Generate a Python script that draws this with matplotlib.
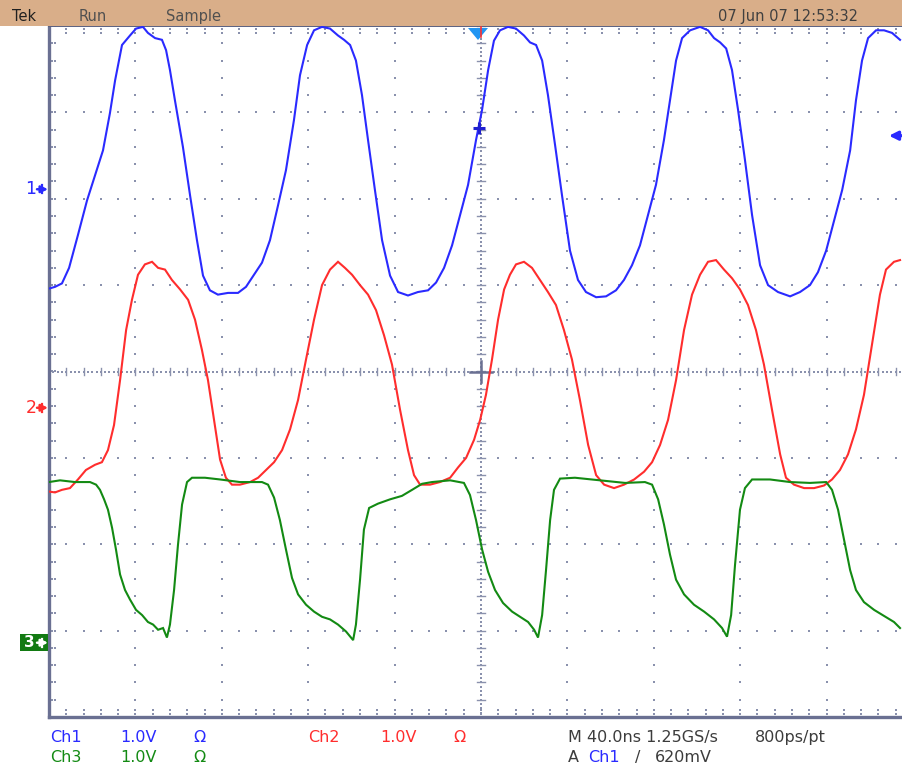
import numpy as np
import matplotlib
matplotlib.use("Agg")
import matplotlib.pyplot as plt
from matplotlib.patches import Rectangle, Polygon, FancyArrowPatch

# ---------------- scope settings ----------------
time_per_div_ns = 40.0
volts_per_div = 1.0
n_hdiv = 10
n_vdiv = 8
ch1_offset_div = 2.11
ch2_offset_div = -0.42
ch3_offset_div = -3.14
trigger_level_v = 0.62
trigger_time_ns = 199.0

# ---------------- waveform data (time ns, volts) ----------------
ch1_t = [0, 2.8, 6.0, 9.3, 13.4, 17.6, 21.3, 25.0, 28.2, 30.6, 33.8, 37.5, 40.3, 43.5, 45.8, 49.1,
         52.3, 54.2, 56.0, 58.3, 62.0, 65.3, 68.5, 71.3, 74.5, 78.2, 82.9, 87.5, 91.2, 94.9, 98.6,
         102.3, 106.0, 109.7, 113.4, 116.2, 119.5, 122.7, 126.4, 130.1, 133.8, 136.6, 139.4, 142.1,
         144.9, 147.7, 150.9, 154.2, 157.9, 161.6, 166.2, 170.8, 175.5, 179.2, 182.9, 186.6, 190.3,
         194.0, 197.7, 200.5, 203.3, 206.0, 208.8, 212.5, 216.2, 219.9, 222.7, 225.5, 228.3, 231.0,
         234.3, 237.5, 241.2, 244.9, 248.6, 253.3, 257.9, 262.5, 266.2, 269.9, 273.6, 277.3, 281.0,
         284.7, 287.5, 290.3, 293.1, 296.8, 301.4, 305.1, 307.9, 310.7, 313.5, 316.2, 319.0, 322.2,
         325.5, 329.2, 332.9, 337.5, 343.1, 347.7, 352.3, 356.0, 359.8, 363.5, 367.2, 370.9, 373.6,
         376.4, 379.2, 382.9, 386.6, 390.3, 394.0]
ch1_v = [-1.15, -1.13, -1.09, -0.91, -0.53, -0.13, 0.16, 0.45, 0.88, 1.26, 1.67, 1.78, 1.86, 1.88, 1.81, 1.75,
         1.73, 1.61, 1.38, 1.03, 0.49, -0.07, -0.59, -1.00, -1.17, -1.22, -1.20, -1.20, -1.13, -0.99, -0.85,
         -0.59, -0.19, 0.22, 0.80, 1.32, 1.67, 1.84, 1.88, 1.86, 1.78, 1.73, 1.67, 1.49,
         1.09, 0.57, -0.01, -0.59, -1.00, -1.19, -1.23, -1.19, -1.17, -1.08, -0.91, -0.65, -0.30,
         0.05, 0.57, 0.92, 1.38, 1.72, 1.84, 1.88, 1.86, 1.78, 1.70, 1.67, 1.49, 1.09,
         0.51, -0.07, -0.71, -1.05, -1.19, -1.25, -1.24, -1.17, -1.05, -0.88, -0.65, -0.30, 0.05,
         0.57, 1.03, 1.49, 1.75, 1.84, 1.88, 1.84, 1.75, 1.70, 1.63, 1.38, 0.92, 0.34,
         -0.30, -0.88, -1.11, -1.19, -1.24, -1.19, -1.11, -0.96, -0.71, -0.36, -0.01, 0.45, 1.03,
         1.49, 1.75, 1.84, 1.84, 1.81, 1.73]

ch2_t = [0, 2.8, 6.0, 9.7, 13.4, 17.1, 21.3, 24.5, 27.3, 30.1, 32.9, 35.7, 38.4, 41.2, 44.4, 47.7,
         50.5, 53.7, 56.9, 60.7, 64.4, 67.6, 70.8, 73.6, 76.4, 79.2, 81.9, 84.7, 88.4, 93.1, 96.8,
         100.5, 104.2, 107.9, 111.6, 115.3, 119.0, 122.7, 126.4, 130.1, 133.8, 137.0, 140.3, 144.0,
         147.7, 151.4, 155.1, 158.8, 162.5, 166.2, 169.0, 171.8, 176.4, 181.0, 185.7, 189.4, 193.1,
         196.8, 199.6, 202.3, 205.1, 207.9, 210.7, 213.4, 216.2, 219.9, 223.6, 227.3, 231.0, 234.7,
         238.4, 242.1, 245.8, 249.6, 253.3, 257.0, 261.6, 266.2, 270.9, 275.5, 279.2, 282.9, 286.6,
         290.3, 294.0, 297.7, 301.4, 305.1, 308.8, 312.5, 316.2, 319.9, 323.6, 327.3, 331.0, 334.7,
         338.5, 341.2, 344.9, 349.6, 354.2, 358.8, 362.5, 366.2, 369.9, 373.6, 377.3, 381.0, 384.7,
         387.5, 391.2, 394.0]
ch2_v = [-0.97, -0.98, -0.95, -0.93, -0.83, -0.72, -0.66, -0.63, -0.49, -0.20, 0.32, 0.90, 1.25, 1.54, 1.66, 1.69,
         1.62, 1.60, 1.48, 1.37, 1.25, 1.02, 0.67, 0.32, -0.14, -0.60, -0.81, -0.89, -0.89, -0.86, -0.81,
         -0.72, -0.63, -0.49, -0.25, 0.09, 0.56, 1.02, 1.42, 1.60, 1.69, 1.62, 1.54, 1.42,
         1.31, 1.13, 0.84, 0.50, -0.02, -0.49, -0.78, -0.89, -0.89, -0.86, -0.81, -0.69, -0.58,
         -0.37, -0.14, 0.15, 0.56, 1.02, 1.37, 1.54, 1.66, 1.69, 1.62, 1.48, 1.34, 1.19,
         0.90, 0.56, 0.09, -0.43, -0.78, -0.89, -0.93, -0.89, -0.83, -0.74, -0.63, -0.43, -0.14,
         0.32, 0.90, 1.31, 1.54, 1.69, 1.71, 1.60, 1.50, 1.37, 1.19, 0.90, 0.50, -0.02,
         -0.54, -0.81, -0.89, -0.93, -0.93, -0.90, -0.83, -0.72, -0.54, -0.25, 0.15, 0.73, 1.31,
         1.60, 1.69, 1.71]

ch3_t = [0, 5.1, 12.0, 19.0, 21.8, 23.6, 25.5, 27.3, 29.2, 31.0, 32.9, 35.2, 37.5, 40.3, 43.1, 45.8,
         48.2, 50.5, 52.8, 54.6, 56.0, 57.9, 59.7, 61.6, 63.9, 66.2, 72.2, 79.2, 88.4, 98.6, 101.4,
         104.2, 106.9, 109.7, 112.5, 115.3, 119.0, 122.7, 126.4, 130.1, 133.8, 137.5, 140.8, 142.1,
         144.0, 145.8, 148.2, 152.3, 157.9, 163.4, 168.1, 172.7, 177.3, 185.7, 192.1, 194.9, 197.7,
         200.5, 203.3, 206.5, 210.2, 214.4, 218.1, 221.8, 224.6, 226.4, 228.3, 230.1, 232.0, 233.8,
         236.6, 243.5, 255.1, 266.7, 275.9, 279.2, 282.0, 284.7, 287.5, 290.3, 294.0, 298.6, 303.3,
         307.9, 311.6, 313.9, 315.8, 317.6, 319.9, 322.2, 325.5, 333.8, 343.1, 352.3, 359.8, 362.5,
         365.3, 368.1, 370.9, 373.6, 377.3, 382.0, 386.6, 391.2, 394.0]
ch3_v = [1.86, 1.88, 1.86, 1.86, 1.83, 1.77, 1.66, 1.54, 1.33, 1.08, 0.79, 0.61, 0.50, 0.38, 0.32, 0.24,
         0.21, 0.15, 0.17, 0.06, 0.21, 0.61, 1.13, 1.60, 1.86, 1.91, 1.91, 1.89, 1.86, 1.86, 1.83,
         1.68, 1.42, 1.08, 0.75, 0.56, 0.44, 0.36, 0.30, 0.27, 0.21, 0.13, 0.03, 0.21,
         0.73, 1.31, 1.56, 1.61, 1.66, 1.70, 1.77, 1.84, 1.86, 1.88, 1.85, 1.71, 1.42,
         1.08, 0.82, 0.61, 0.46, 0.36, 0.30, 0.24, 0.15, 0.06, 0.32, 0.84, 1.42, 1.77,
         1.90, 1.91, 1.88, 1.85, 1.86, 1.83, 1.66, 1.37, 1.02, 0.73, 0.56, 0.44, 0.36,
         0.27, 0.17, 0.07, 0.32, 0.90, 1.54, 1.79, 1.89, 1.89, 1.86, 1.85, 1.86, 1.77,
         1.54, 1.19, 0.84, 0.61, 0.47, 0.38, 0.31, 0.24, 0.17]

# ---------------- texts ----------------
header_items = ["Tek", "Run", "Sample"]
header_date = "07 Jun 07 12:53:32"
row1_items = [("Ch1", "blue"), ("1.0V", "blue"), ("\u03a9", "blue"),
              ("Ch2", "red"), ("1.0V", "red"), ("\u03a9", "red"),
              ("M 40.0ns 1.25GS/s", "text"), ("800ps/pt", "text")]
row2_items = [("Ch3", "green"), ("1.0V", "green"), ("\u03a9", "green"),
              ("A", "text"), ("Ch1", "blue"), ("/", "text"), ("620mV", "text")]

# ---------------- styling ----------------
W, H = 902, 767
BLUE = "#2a2aff"
RED = "#ff2d2d"
GREEN = "#138a13"
TXT = "#3c3c3c"
GRID = "#8a91ad"
FRAME = "#6a7092"
HEADER = "#d9ae89"
colors = {"blue": BLUE, "red": RED, "green": GREEN, "text": TXT}

fig = plt.figure(figsize=(W / 100, H / 100), dpi=100)
fig.patch.set_facecolor("white")

def fx(x):
    return x / W

def fy(y):
    return 1 - y / H

# plot area: left 49 px, top 26 px, bottom 717 px, right 913 px (beyond image edge)
ax = fig.add_axes([fx(49), fy(717), 864 / W, 691 / H])
tmax = time_per_div_ns * n_hdiv
ax.set_xlim(0, tmax)
ax.set_ylim(-n_vdiv / 2, n_vdiv / 2)
ax.set_xticks([])
ax.set_yticks([])
for s in ["left", "bottom"]:
    ax.spines[s].set_color(FRAME)
    ax.spines[s].set_linewidth(2.4)
ax.spines["top"].set_color("#5a6080")
ax.spines["top"].set_linewidth(1.4)
ax.spines["right"].set_visible(False)

minor_dt = time_per_div_ns / 5
minor_x = np.arange(0, tmax + 0.01, minor_dt)
minor_y = np.arange(-4, 4.001, 0.2)
dot_kw = dict(marker="s", ms=1.5, mew=0, color=GRID, ls="none", zorder=1)

# major dotted grid lines
for k in range(1, n_hdiv):
    if k == n_hdiv // 2:
        continue
    ax.plot(np.full_like(minor_y, k * time_per_div_ns), minor_y, **dot_kw)
for k in range(-3, 4):
    if k == 0:
        continue
    ax.plot(minor_x, np.full_like(minor_x, k), **dot_kw)

# centre lines with fine dots and small ticks
cx = tmax / 2
fine_x = np.arange(0, tmax + 0.01, minor_dt / 4)
fine_y = np.arange(-4, 4.001, 0.05)
ax.plot(fine_x, np.zeros_like(fine_x), **dot_kw)
ax.plot(np.full_like(fine_y, cx), fine_y, **dot_kw)
for x in minor_x:
    ax.plot([x, x], [-0.045, 0.045], color=GRID, lw=1.0, zorder=1)
for y in minor_y:
    ax.plot([cx - 1.8, cx + 1.8], [y, y], color=GRID, lw=1.0, zorder=1)
ax.plot([cx - 5.0, cx + 5.0], [0, 0], color=FRAME, lw=1.8, zorder=1)
ax.plot([cx, cx], [-0.12, 0.12], color=FRAME, lw=1.8, zorder=1)

# edge ticks
for y in minor_y:
    ax.plot([1.4, 3.0], [y, y], **dot_kw)
for x in minor_x:
    ax.plot([x, x], [-4 + 0.04, -4 + 0.08], **dot_kw)
    ax.plot([x, x], [4 - 0.04, 4 - 0.08], **dot_kw)

# traces
def plot_ch(t, v, off, c):
    y = np.asarray(v) / volts_per_div + off
    ax.plot(t, y, color=c, lw=1.5, zorder=3, solid_joinstyle="miter")

plot_ch(ch1_t, ch1_v, ch1_offset_div, BLUE)
plot_ch(ch2_t, ch2_v, ch2_offset_div, RED)
plot_ch(ch3_t, ch3_v, ch3_offset_div, GREEN)

# trigger point marker on trace
ax.plot([trigger_time_ns], [ch1_offset_div + trigger_level_v + 0.09], marker="+", ms=8, mew=2.2,
        color="#1f1fd0", zorder=4)

# ---------------- header bar ----------------
fig.patches.append(Rectangle((0, fy(26)), 1, 26 / H, transform=fig.transFigure,
                             facecolor=HEADER, edgecolor="none", zorder=0))
hx = [12, 79, 166]
for xpos, s in zip(hx, header_items):
    fig.text(fx(xpos), fy(21), s, fontsize=10.5, color="#202020" if s == "Tek" else "#505050",
             va="baseline", ha="left")
fig.text(fx(858), fy(21), header_date, fontsize=10.5, color="#404040", va="baseline", ha="right")

# trigger position marker (top)
fig.patches.append(Polygon([(fx(468), fy(28)), (fx(488), fy(28)), (fx(478), fy(40))],
                           closed=True, transform=fig.transFigure, facecolor="#2196f3",
                           edgecolor="none", zorder=5))
fig.lines.append(plt.Line2D([fx(481), fx(481)], [fy(27), fy(37)], transform=fig.transFigure,
                            color="#ff3030", lw=1.2, zorder=6))


def fig_arrow(x0, x1, ypx, c, scale, lw):
    a = FancyArrowPatch((fx(x0), fy(ypx)), (fx(x1), fy(ypx)), transform=fig.transFigure,
                        arrowstyle="-|>", mutation_scale=scale, color=c, lw=lw, zorder=7,
                        shrinkA=0, shrinkB=0)
    fig.patches.append(a)


# trigger level arrow (right)
trig_y_px = 371.5 - (ch1_offset_div + trigger_level_v) * 86.375
fig_arrow(902, 889, trig_y_px, BLUE, 13, 2.2)


# channel ground markers (left)
def ch_marker(label, off, c, boxed=False):
    ypx = 371.5 - off * 86.375
    if boxed:
        fig.patches.append(Rectangle((fx(20), fy(ypx + 8.5)), 28 / W, 17 / H,
                                     transform=fig.transFigure, facecolor="#127a12",
                                     edgecolor="none", zorder=5))
        tc = "white"
        fig.text(fx(29), fy(ypx), label, fontsize=11, color=tc, ha="center", va="center",
                 zorder=8, fontweight="bold")
    else:
        tc = c
        fig.text(fx(31), fy(ypx), label, fontsize=12.5, color=tc, ha="center", va="center",
                 zorder=8)
    fig_arrow(37, 48, ypx, tc, 10, 1.8)
    fig.lines.append(plt.Line2D([fx(42), fx(42)], [fy(ypx - 4), fy(ypx + 4)],
                                transform=fig.transFigure, color=tc, lw=1.6, zorder=8))

ch_marker("1", ch1_offset_div, BLUE)
ch_marker("2", ch2_offset_div, RED)
ch_marker("3", ch3_offset_div, GREEN, boxed=True)

# ---------------- bottom readout ----------------
row1_x = [50, 120, 193, 308, 380, 453, 568, 755]
row2_x = [50, 120, 193, 568, 588, 635, 655]
for (s, c), xpos in zip(row1_items, row1_x):
    fig.text(fx(xpos), fy(742), s, fontsize=11.5, color=colors[c], va="baseline", ha="left")
for (s, c), xpos in zip(row2_items, row2_x):
    fig.text(fx(xpos), fy(762), s, fontsize=11.5, color=colors[c], va="baseline", ha="left")

fig.savefig("out.png", dpi=100, facecolor="white")
